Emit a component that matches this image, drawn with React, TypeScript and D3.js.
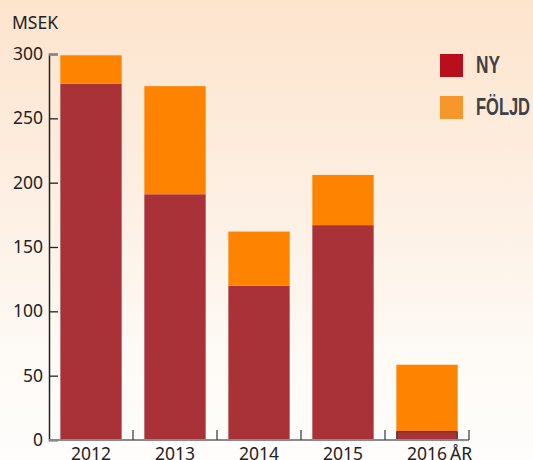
import React, { useEffect, useRef } from 'react';
import * as d3 from 'd3';

const years = ['2012', '2013', '2014', '2015', '2016'];
const nyValues = [277, 191, 120, 167, 6.5];
const foljdValues = [22, 84, 42, 39, 52];
const yTicks = [0, 50, 100, 150, 200, 250, 300];
const legendLabels = ['NY', 'FÖLJD'];
const legendWidths = [24, 54];
const legendColors = ['#b90e1c', '#f7962a'];
const barColors = ['#a83238', '#fd8300'];

export default function App() {
    const ref = useRef<SVGSVGElement>(null);

    const width = 533;
    const height = 460;
    const margin = { top: 54, left: 49, right: 64, bottom: 20 };

    useEffect(() => {
        const svg = d3.select(ref.current);
        svg.selectAll('*').remove();

        // background gradient
        const defs = svg.append('defs');
        const grad = defs.append('linearGradient')
            .attr('id', 'bg')
            .attr('x1', 0).attr('y1', 0).attr('x2', 0).attr('y2', 1);
        grad.append('stop').attr('offset', '0%').attr('stop-color', '#fde4cd');
        grad.append('stop').attr('offset', '45%').attr('stop-color', '#fdf0e4');
        grad.append('stop').attr('offset', '80%').attr('stop-color', '#fefbf7');
        grad.append('stop').attr('offset', '100%').attr('stop-color', '#fefdfb');
        svg.append('rect')
            .attr('width', width).attr('height', height)
            .attr('fill', 'url(#bg)');

        const x = d3.scaleBand()
            .domain(years)
            .range([margin.left, width - margin.right])
            .paddingInner(0.27)
            .paddingOuter(0.135);

        const y = d3.scaleLinear()
            .domain([0, 300])
            .range([height - margin.bottom, margin.top]);

        const rows = years.map((yr, i) => ({ year: yr, ny: nyValues[i], foljd: foljdValues[i] }));
        const stacked = d3.stack<any>().keys(['ny', 'foljd'])(rows);

        svg.append('g')
            .selectAll('g')
            .data(stacked)
            .enter()
            .append('g')
            .attr('fill', (d, i) => barColors[i])
            .selectAll('rect')
            .data(d => d)
            .enter()
            .append('rect')
            .attr('x', d => x(d.data.year)!)
            .attr('width', x.bandwidth())
            .attr('y', d => y(d[1]))
            .attr('height', d => y(d[0]) - y(d[1]));

        // outline the small 2016 NY bar
        const last = stacked[0][years.length - 1];
        svg.append('rect')
            .attr('x', x('2016')! + 0.5)
            .attr('width', x.bandwidth() - 1)
            .attr('y', y(last[1]))
            .attr('height', y(last[0]) - y(last[1]) - 0.5)
            .attr('fill', 'none')
            .attr('stroke', '#333')
            .attr('stroke-width', 1);

        const font = "'Noto Sans', 'Open Sans', sans-serif";

        // y axis
        const yAxis = svg.append('g')
            .attr('transform', `translate(${margin.left},0)`)
            .call(d3.axisRight(y).tickValues(yTicks).tickSize(9));
        yAxis.select('.domain').attr('stroke', '#222').attr('stroke-width', 1.5);
        yAxis.selectAll('.tick line').attr('stroke', '#222').attr('stroke-width', 1.3);
        yAxis.selectAll('.tick').filter((d: any) => d === 300).select('line')
            .attr('stroke', '#888').attr('stroke-width', 2.5);
        yAxis.selectAll('.tick text')
            .attr('text-anchor', 'end')
            .attr('x', -6)
            .attr('fill', '#222')
            .style('font-family', font)
            .style('font-size', '17.5px');

        // x axis
        const xAxis = svg.append('g')
            .attr('transform', `translate(0,${height - margin.bottom})`)
            .call(d3.axisBottom(x).tickSize(0).tickPadding(8));
        xAxis.select('.domain').remove();
        xAxis.selectAll('.tick text')
            .attr('fill', '#222')
            .style('font-family', font)
            .style('font-size', '17.5px');
        xAxis.selectAll('.tick').filter((d: any) => d === '2016')
            .append('text')
            .attr('x', 23)
            .attr('y', 8)
            .attr('dy', '0.71em')
            .attr('text-anchor', 'start')
            .attr('fill', '#222')
            .style('font-family', font)
            .style('font-size', '17.5px')
            .text('ÅR');

        const baseY = y(0);
        svg.append('line')
            .attr('x1', margin.left).attr('x2', width - margin.right)
            .attr('y1', baseY).attr('y2', baseY)
            .attr('stroke', '#8a8a8a').attr('stroke-width', 2);

        // separators between bands
        const step = x.step();
        const bounds = years.map((yr) => x(yr)! + x.bandwidth() + (step - x.bandwidth()) / 2);
        svg.append('g')
            .selectAll('line')
            .data(bounds)
            .enter()
            .append('line')
            .attr('x1', d => d).attr('x2', d => d)
            .attr('y1', baseY - 10).attr('y2', baseY)
            .attr('stroke', '#444').attr('stroke-width', 1.3);

        // unit label
        svg.append('text')
            .attr('x', 12)
            .attr('y', 29)
            .attr('fill', '#222')
            .style('font-family', font)
            .style('font-size', '17.5px')
            .text('MSEK');

        // legend
        const legend = svg.append('g')
            .selectAll('g')
            .data(legendLabels)
            .enter()
            .append('g')
            .attr('transform', (d, i) => `translate(440,${54 + i * 42})`);
        legend.append('rect')
            .attr('width', 23).attr('height', 23)
            .attr('fill', (d, i) => legendColors[i]);
        legend.append('text')
            .attr('x', 36)
            .attr('y', 18.5)
            .attr('fill', '#3f4144')
            .attr('textLength', (d, i) => legendWidths[i])
            .attr('lengthAdjust', 'spacingAndGlyphs')
            .style('font-family', "'Liberation Sans', Arial, sans-serif")
            .style('font-weight', 'bold')
            .style('font-size', '24px')
            .text(d => d);
    }, []);

    return (
        <svg ref={ref} width={width} height={height}
            style={{ position: 'absolute', left: 0, top: 0 }} />
    );
}
